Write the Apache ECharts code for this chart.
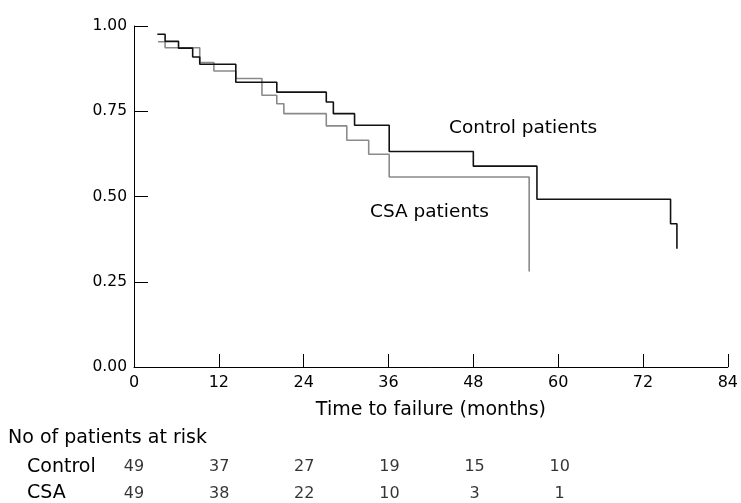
<!DOCTYPE html>
<html>
<head>
<meta charset="utf-8">
<script src="https://cdn.jsdelivr.net/npm/echarts@6/dist/echarts.min.js"></script>
<style>
html,body{margin:0;padding:0;background:#fff;}
#chart{width:741px;height:503px;}
</style>
</head>
<body>
<div id="chart"></div>
<script>
// Kaplan-Meier step data: [month, survival after drop]
var controlCurve = [[3.3,0.976],[4.4,0.955],[6.3,0.935],[8.3,0.909],[9.3,0.888],[14.4,0.835],[20.2,0.806],[27.2,0.777],[28.2,0.743],[31.2,0.709],[36.1,0.632],[48.0,0.589],[57.0,0.492],[75.9,0.42],[76.8,0.347]];
var csaCurve = [[3.4,0.954],[4.4,0.936],[9.3,0.893],[11.3,0.868],[14.4,0.846],[18.1,0.797],[20.2,0.772],[21.2,0.743],[27.2,0.707],[30.1,0.665],[33.2,0.624],[36.1,0.557],[55.9,0.28]];
var riskTimes = [0,12,24,36,48,60];
var riskGroups = ['Control','CSA'];
var riskControl = [49,37,27,19,15,10];
var riskCSA = [49,38,22,10,3,1];
var xTicks = [0,12,24,36,48,60,72,84];
var yTicks = [0,0.25,0.5,0.75,1];

var FONT = 'DejaVu Sans';
var riskData = [];
riskTimes.forEach(function(t,i){
  riskData.push([t,'Control',riskControl[i]]);
  riskData.push([t,'CSA',riskCSA[i]]);
});

var chart = echarts.init(document.getElementById('chart'), null, {renderer:'canvas'});
chart.setOption({
  animation:false,
  backgroundColor:'#fff',
  textStyle:{fontFamily:FONT},
  grid:[
    {left:134, right:11, top:26, bottom:136},
    {left:134, right:11, top:467, height:28.5}
  ],
  xAxis:[
    {type:'value', gridIndex:0, min:xTicks[0], max:xTicks[xTicks.length-1], interval:12,
     axisLine:{show:true,onZero:false,lineStyle:{color:'#000',width:1}},
     axisTick:{show:true,inside:true,length:13,lineStyle:{color:'#000',width:1}},
     axisLabel:{color:'#000',fontSize:16,fontFamily:FONT,margin:8},
     splitLine:{show:false},
     name:'Time to failure (months)', nameLocation:'middle', nameGap:34,
     nameTextStyle:{color:'#000',fontSize:19,fontFamily:FONT}
    },
    {type:'value', gridIndex:1, min:0, max:84, show:false}
  ],
  yAxis:[
    {type:'value', gridIndex:0, min:0, max:1, interval:0.25,
     axisLine:{show:true,lineStyle:{color:'#000',width:1}},
     axisTick:{show:true,inside:true,length:14,lineStyle:{color:'#000',width:1}},
     axisLabel:{color:'#000',fontSize:15.5,fontFamily:FONT,margin:7,formatter:function(v){return v.toFixed(2);}},
     splitLine:{show:false}
    },
    {type:'category', gridIndex:1, data:riskGroups, inverse:true, boundaryGap:false,
     axisLine:{show:false}, axisTick:{show:false}, splitLine:{show:false},
     axisLabel:{color:'#000',fontSize:19,fontFamily:FONT,align:'left',margin:107}
    }
  ],
  series:[
    {type:'line', name:'CSA patients', xAxisIndex:0, yAxisIndex:0, data:csaCurve, step:'end',
     showSymbol:false, symbol:'none', lineStyle:{color:'#8a8a8a',width:1.6}, z:2},
    {type:'line', name:'Control patients', xAxisIndex:0, yAxisIndex:0, data:controlCurve, step:'end',
     showSymbol:false, symbol:'none', lineStyle:{color:'#111',width:1.6}, z:3},
    {type:'scatter', xAxisIndex:1, yAxisIndex:1, data:riskData, symbolSize:1,
     itemStyle:{color:'rgba(0,0,0,0)'},
     label:{show:true, position:'inside', color:'#000', fontSize:16, fontFamily:FONT,
       formatter:function(p){return String(p.data[2]);}}
    }
  ],
  graphic:[
    {type:'text', left:449, top:119, style:{text:'Control patients', fill:'#000', font:'18.5px "DejaVu Sans"'}},
    {type:'text', left:370, top:203, style:{text:'CSA patients', fill:'#000', font:'18.5px "DejaVu Sans"'}},
    {type:'text', left:8, top:429, style:{text:'No of patients at risk', fill:'#000', font:'19px "DejaVu Sans"'}}
  ]
});
</script>
</body>
</html>
